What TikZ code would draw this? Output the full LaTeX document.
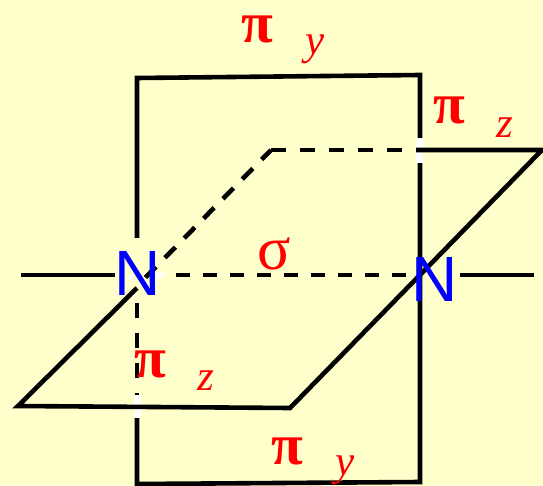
\documentclass[tikz,border=0pt]{standalone}
\usepackage{fontspec}
\setmainfont{Liberation Serif}
\setsansfont{Liberation Sans}
\usepackage{xcolor}
\usetikzlibrary{positioning, calc}
\definecolor{paper}{HTML}{FFFFCC}

\begin{document}
\begin{tikzpicture}[
    x=1pt, y=-1pt,
    every node/.style={inner sep=0pt, outer sep=0pt},
    bond/.style={draw=black, line width=4.6pt, line join=miter},
    axisdash/.style={bond, dash pattern=on 14pt off 13pt},
    backdash/.style={bond, dash pattern=on 15pt off 14pt},
    slant/.style={bond, dash pattern=on 15pt off 12.6pt},
    gap/.style={fill=white, draw=none},
    atom/.style={font=\fontsize{64}{64}\sffamily, text=blue},
    orb/.style={font=\fontsize{58}{58}\selectfont\bfseries, text=red},
    thinorb/.style={font=\fontsize{62}{62}\selectfont, text=red},
    sub/.style={font=\fontsize{43}{43}\selectfont\itshape, text=red}
]
\useasboundingbox (0,0) rectangle (543,486);
\fill[paper] (0,0) rectangle (543,486);

% Vertical plane
\coordinate (tl) at (137,78);
\coordinate (tr) at (420,75);
\coordinate (br) at (420,482);
\coordinate (bl) at (137,484);
\coordinate (left_up) at (137,238);
\coordinate (left_dash) at (137,303);
\coordinate (left_end) at (137,395);
\coordinate (left_low) at (137,418);
\draw[bond] (left_up) -- (tl) -- (tr) -- (br) -- (bl) -- (left_low);
\draw[backdash, dash pattern=on 15pt off 15pt] (left_dash) -- (left_end);

% White breaks
\fill[gap] (134,395) rectangle (141,418);
\fill[gap] (416,138) rectangle (423,163);
\fill[gap] (129,280) -- (137,275) -- (129,275) -- cycle;
\fill[gap] (155,273) -- (167,273) -- (158,279) -- cycle;

% Horizontal plane
\coordinate (p1) at (18,406);
\coordinate (p2) at (290,408);
\coordinate (p3) at (542,150);
\coordinate (p4) at (416,150);
\coordinate (p5) at (271,150);
\coordinate (p6) at (145.5,277.5);
\coordinate (p7) at (137,288);
\draw[bond] (p7) -- (p1) -- (p2) -- (p3) -- (p4);
\draw[backdash] (p5) -- (p4);
\draw[slant] (p6) -- (p5);

% Sigma axis
\coordinate (a1) at (21,275);
\coordinate (a2) at (115,275);
\coordinate (a3) at (176,275);
\coordinate (a4) at (406,275);
\coordinate (a5) at (460,275);
\coordinate (a6) at (534,275);
\draw[bond] (a1) -- (a2);
\draw[axisdash] (a3) -- (a4);
\draw[bond] (a5) -- (a6);

% Labels
\node (n_left) [atom] at (138,273) {N};
\node (n_right) [atom] at (435,279) {N};
\node (sigma) [thinorb] at (274,254) {σ};
\node (pi_top) [orb] at (257,29) {π};
\node (y_top) [sub] at (315,49) {y};
\node (pi_right) [orb] at (449,110) {π};
\node (z_right) [sub] at (505,128) {z};
\node (pi_low) [orb] at (150,364) {π};
\node (z_low) [sub] at (206,381) {z};
\node (pi_bottom) [orb] at (287,451) {π};
\node (y_bottom) [sub] at (345,470) {y};

\end{tikzpicture}
\end{document}
